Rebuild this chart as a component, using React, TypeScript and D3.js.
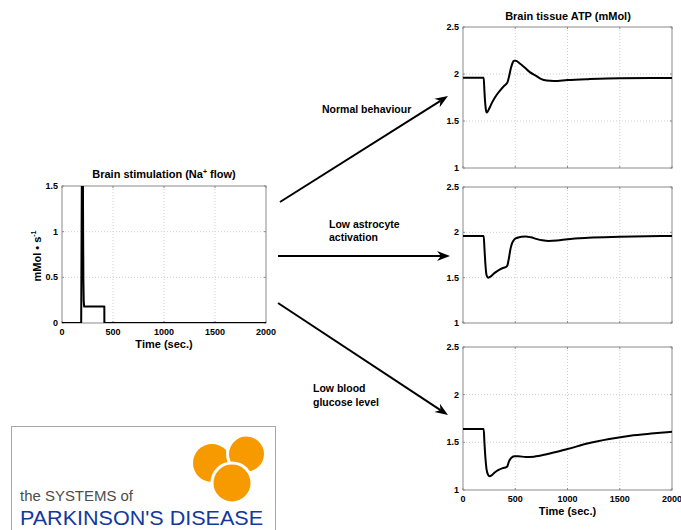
import React from "react";
import * as d3 from "d3";

// Axis ticks
const timeTicks = [0, 500, 1000, 1500, 2000];
const flowTicks = [0, 0.5, 1, 1.5];
const atpTicks = [1, 1.5, 2, 2.5];

// Brain stimulation: Na+ flow (mMol/s) over time (s)
const stimTime = [0, 188, 197, 203, 207, 210, 213, 217, 415, 415.5, 2000];
const stimFlow = [0, 0, 2.2, 2.2, 1.0, 0.45, 0.24, 0.18, 0.18, 0, 0];

// Brain tissue ATP (mMol), normal behaviour
const normalTime = [0, 198, 204, 211, 218, 226, 236, 250, 275, 300, 330, 360, 390, 415, 425, 440, 458, 475, 490, 505, 540, 590, 640, 700, 750, 800, 870, 1000, 1200, 1500, 2000];
const normalAtp = [1.96, 1.96, 1.84, 1.71, 1.63, 1.59, 1.6, 1.63, 1.69, 1.74, 1.79, 1.83, 1.87, 1.895, 1.91, 1.97, 2.06, 2.12, 2.14, 2.14, 2.115, 2.07, 2.02, 1.98, 1.945, 1.93, 1.925, 1.935, 1.945, 1.955, 1.958];

// Brain tissue ATP (mMol), low astrocyte activation
const astroTime = [0, 198, 205, 215, 225, 240, 260, 300, 350, 390, 415, 425, 440, 455, 470, 490, 520, 560, 600, 650, 700, 760, 820, 900, 1000, 1200, 1500, 2000];
const astroAtp = [1.96, 1.96, 1.83, 1.64, 1.53, 1.5, 1.51, 1.55, 1.59, 1.61, 1.62, 1.635, 1.72, 1.82, 1.88, 1.92, 1.94, 1.952, 1.955, 1.945, 1.928, 1.912, 1.905, 1.91, 1.925, 1.94, 1.95, 1.96];

// Brain tissue ATP (mMol), low blood glucose level
const glucoseTime = [0, 198, 205, 215, 225, 240, 255, 275, 300, 340, 380, 415, 425, 440, 460, 490, 530, 600, 680, 800, 1000, 1200, 1400, 1600, 1800, 2000];
const glucoseAtp = [1.64, 1.64, 1.5, 1.33, 1.22, 1.16, 1.145, 1.155, 1.18, 1.21, 1.23, 1.24, 1.25, 1.3, 1.335, 1.355, 1.355, 1.345, 1.35, 1.375, 1.43, 1.49, 1.535, 1.57, 1.592, 1.61];

const FONT = "'Liberation Sans', Arial, Helvetica, sans-serif";

type PanelProps = {
  id: string;
  x0: number;
  x1: number;
  y0: number;
  y1: number;
  yDomain: [number, number];
  yTicks: number[];
  xLabels: boolean;
  time: number[];
  values: number[];
  smooth: boolean;
};

function Panel({ id, x0, x1, y0, y1, yDomain, yTicks, xLabels, time, values, smooth }: PanelProps) {
  const x = d3.scaleLinear().domain([0, 2000]).range([x0, x1]);
  const y = d3.scaleLinear().domain(yDomain).range([y1, y0]);
  const pts = time.map((t, i) => [t, values[i]] as [number, number]);
  const line = d3
    .line<[number, number]>()
    .x((d) => x(d[0]))
    .y((d) => y(d[1]))
    .curve(smooth ? d3.curveMonotoneX : d3.curveLinear);
  const grid = "#cfcfcf";
  const box = "#8a8a8a";
  return (
    <g>
      <defs>
        <clipPath id={id}>
          <rect x={x0} y={y0} width={x1 - x0} height={y1 - y0} />
        </clipPath>
      </defs>
      <rect x={x0} y={y0} width={x1 - x0} height={y1 - y0} fill="#fff" />
      {timeTicks.slice(1, -1).map((t) => (
        <line key={"gx" + t} x1={x(t)} x2={x(t)} y1={y0} y2={y1} stroke={grid} strokeWidth={1} strokeDasharray="1,2" />
      ))}
      {yTicks.slice(1, -1).map((v) => (
        <line key={"gy" + v} x1={x0} x2={x1} y1={y(v)} y2={y(v)} stroke={grid} strokeWidth={1} strokeDasharray="1,2" />
      ))}
      {timeTicks.map((t) => (
        <g key={"tx" + t}>
          <line x1={x(t)} x2={x(t)} y1={y1} y2={y1 - 2} stroke={box} />
          <line x1={x(t)} x2={x(t)} y1={y0} y2={y0 + 2} stroke={box} />
        </g>
      ))}
      {yTicks.map((v) => (
        <g key={"ty" + v}>
          <line x1={x0} x2={x0 + 2} y1={y(v)} y2={y(v)} stroke={box} />
          <line x1={x1} x2={x1 - 2} y1={y(v)} y2={y(v)} stroke={box} />
        </g>
      ))}
      <rect x={x0} y={y0} width={x1 - x0} height={y1 - y0} fill="none" stroke={box} strokeWidth={1} />
      <path d={line(pts) || ""} fill="none" stroke="#000" strokeWidth={2} strokeLinejoin="round" clipPath={`url(#${id})`} />
      {yTicks.map((v) => (
        <text key={"ly" + v} x={x0 - 4} y={y(v) + 3} textAnchor="end" fontSize={9} fontWeight="bold" fontFamily={FONT} fill="#000">
          {String(v)}
        </text>
      ))}
      {xLabels &&
        timeTicks.map((t) => (
          <text key={"lx" + t} x={x(t)} y={y1 + 12} textAnchor="middle" fontSize={9} fontWeight="bold" fontFamily={FONT} fill="#000">
            {String(t)}
          </text>
        ))}
      {xLabels && (
        <text x={(x0 + x1) / 2} y={y1 + 25} textAnchor="middle" fontSize={11} fontWeight="bold" fontFamily={FONT} fill="#000">
          Time (sec.)
        </text>
      )}
    </g>
  );
}

function Arrow({ x1, y1, x2, y2 }: { x1: number; y1: number; x2: number; y2: number }) {
  const ang = Math.atan2(y2 - y1, x2 - x1);
  const L = 13;
  const Wd = 5;
  const notch = 4;
  const bx = x2 - L * Math.cos(ang);
  const by = y2 - L * Math.sin(ang);
  const nx = x2 - (L - notch) * Math.cos(ang);
  const ny = y2 - (L - notch) * Math.sin(ang);
  const px = -Math.sin(ang);
  const py = Math.cos(ang);
  const head = `M${x2},${y2} L${bx + px * Wd},${by + py * Wd} L${nx},${ny} L${bx - px * Wd},${by - py * Wd} Z`;
  return (
    <g>
      <line x1={x1} y1={y1} x2={nx} y2={ny} stroke="#000" strokeWidth={2} />
      <path d={head} fill="#000" />
    </g>
  );
}

export default function App() {
  const W = 681;
  const H = 530;
  const lbl = { fontSize: 10.5, fontWeight: "bold" as const, fontFamily: FONT, fill: "#000" };
  return (
    <svg width={W} height={H} style={{ position: "absolute", left: 0, top: 0, background: "#fff" }}>
      <rect x={0} y={0} width={W} height={H} fill="#fff" />

      {/* Stimulation panel */}
      <text x={164} y={178} textAnchor="middle" fontSize={11} fontWeight="bold" fontFamily={FONT}>
        Brain stimulation (Na<tspan dy={-4} fontSize={7}>+</tspan>
        <tspan dy={4}> flow)</tspan>
      </text>
      <Panel id="cStim" x0={62} x1={266} y0={186} y1={323} yDomain={[0, 1.5]} yTicks={flowTicks} xLabels={true} time={stimTime} values={stimFlow} smooth={false} />
      <text transform="translate(41,256) rotate(-90)" textAnchor="middle" fontSize={11} fontWeight="bold" fontFamily={FONT}>
        mMol • s<tspan dy={-5} fontSize={7}>-1</tspan>
      </text>

      {/* ATP panels */}
      <text x={568} y={20} textAnchor="middle" fontSize={11} fontWeight="bold" fontFamily={FONT}>
        Brain tissue ATP (mMol)
      </text>
      <Panel id="cNorm" x0={463} x1={672} y0={27} y1={168} yDomain={[1, 2.5]} yTicks={atpTicks} xLabels={false} time={normalTime} values={normalAtp} smooth={true} />
      <Panel id="cAstro" x0={463} x1={672} y0={187} y1={323} yDomain={[1, 2.5]} yTicks={atpTicks} xLabels={false} time={astroTime} values={astroAtp} smooth={true} />
      <Panel id="cGluc" x0={463} x1={672} y0={347} y1={490} yDomain={[1, 2.5]} yTicks={atpTicks} xLabels={true} time={glucoseTime} values={glucoseAtp} smooth={true} />

      {/* Scenario arrows */}
      <Arrow x1={280} y1={202} x2={448} y2={96} />
      <Arrow x1={278} y1={256} x2={450} y2={256} />
      <Arrow x1={278} y1={303} x2={448} y2={415} />
      <text x={322} y={113} {...lbl}>Normal behaviour</text>
      <text x={329} y={228} {...lbl}>Low astrocyte</text>
      <text x={329} y={241} {...lbl}>activation</text>
      <text x={313} y={392} {...lbl}>Low blood</text>
      <text x={313} y={406} {...lbl}>glucose level</text>

      {/* Logo */}
      <rect x={11.5} y={426.5} width={264} height={120} fill="#fff" stroke="#a8a8a8" strokeWidth={1} />
      <circle cx={212} cy={463} r={19} fill="#f79a00" />
      <circle cx={246.5} cy={454} r={19} fill="#f79a00" stroke="#fff" strokeWidth={3} />
      <circle cx={232} cy={483} r={20} fill="#f79a00" stroke="#fff" strokeWidth={3} />
      <text x={20} y={501} fontSize={14} fontFamily={FONT} fill="#4d4d4d" textLength={113} lengthAdjust="spacingAndGlyphs">
        the SYSTEMS of
      </text>
      <text x={20} y={525} fontSize={19.5} fontFamily={FONT} fill="#14399a" textLength={243} lengthAdjust="spacingAndGlyphs">
        PARKINSON'S DISEASE
      </text>
    </svg>
  );
}
